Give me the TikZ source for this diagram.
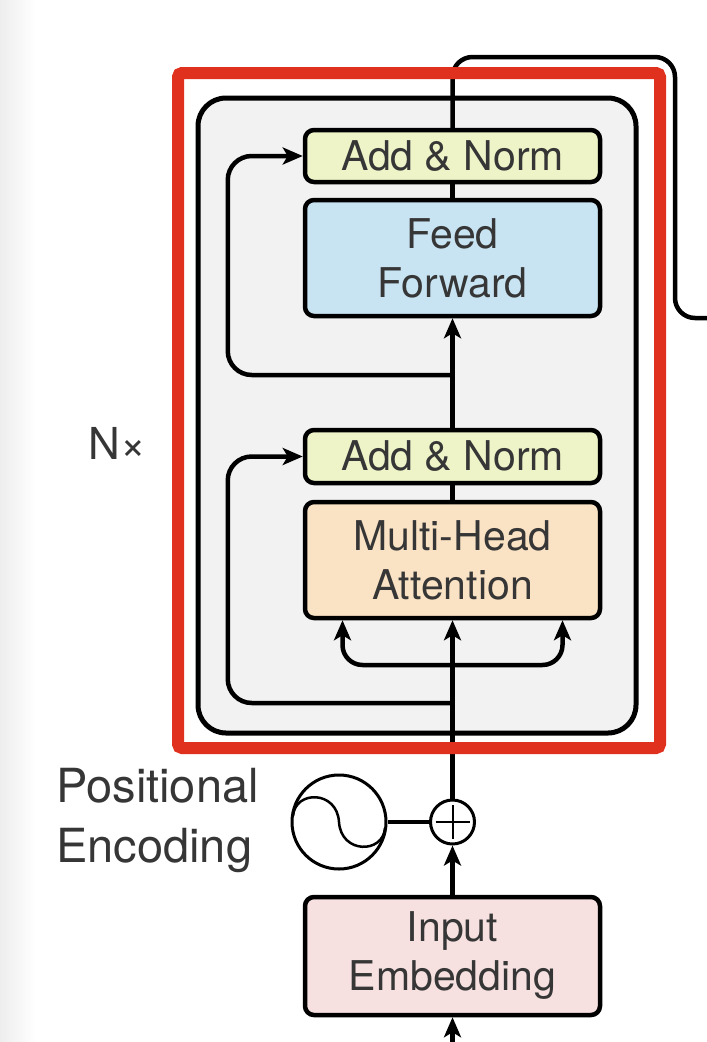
\documentclass[tikz,border=0pt]{standalone}
\usepackage{fontspec}
\setmainfont{TeX Gyre Heros}
\usetikzlibrary{arrows.meta,calc}
\definecolor{txt}{HTML}{363636}
\definecolor{annfill}{HTML}{EEF3C8}
\definecolor{fffill}{HTML}{C8E3F2}
\definecolor{mhafill}{HTML}{FAE2C4}
\definecolor{embfill}{HTML}{F6E0E0}
\definecolor{layerfill}{HTML}{F2F2F3}
\definecolor{hlred}{HTML}{E0301E}
\begin{document}
\begin{tikzpicture}[x=1pt,y=-1pt,
  blk/.style={draw=black, line width=4.5pt, rounded corners=9pt, minimum width=295pt,
    align=center, inner sep=0pt, text=txt, font=\fontsize{41}{49}\selectfont},
  wire/.style={line width=4.5pt},
  arr/.style={wire, -{Stealth[length=20pt,width=17pt,inset=5pt]}},
  lbl/.style={text=txt, inner sep=0pt},
]
\useasboundingbox (0,0) rectangle (707,1042);
\fill[white] (0,0) rectangle (707,1042);
\fill[left color=black!7, right color=white] (0,0) rectangle (35,1042);

% layer container
\node[draw=black, line width=5pt, fill=layerfill, rounded corners=28pt,
  minimum width=438pt, minimum height=635pt, inner sep=0pt] (layer) at (417,415.5) {};

% blocks
\node[blk, fill=annfill, minimum height=52pt] (an1) at (452.5,156) {Add \& Norm};
\node[blk, fill=fffill, minimum height=116pt] (ff) at (452.5,258) {Feed\\Forward};
\node[blk, fill=annfill, minimum height=53pt] (an2) at (452.5,456.5) {Add \& Norm};
\node[blk, fill=mhafill, minimum height=116pt] (mha) at (452.5,560) {Multi-Head\\Attention};
\node[blk, fill=embfill, minimum height=118pt] (emb) at (452.5,956) {Input\\Embedding};

% positional encoding
\node[circle, draw=black, line width=3pt, minimum size=94pt, inner sep=0pt] (pe) at (339,822) {};
\node[circle, draw=black, line width=3pt, minimum size=44pt, inner sep=0pt] (add) at (452.5,822) {};
\draw[line width=2pt] ($(add.center)+(-17,0)$) -- ($(add.center)+(17,0)$);
\draw[line width=2pt] ($(add.center)+(0,-17)$) -- ($(add.center)+(0,17)$);
\draw[line width=2.5pt] ($(pe.center)+(-46,-6)$) .. controls ($(pe.center)+(-44,-32)$) and ($(pe.center)+(-2,-32)$) .. (pe.center)
  .. controls ($(pe.center)+(2,32)$) and ($(pe.center)+(44,32)$) .. ($(pe.center)+(46,6)$);
\draw[wire] (pe.east) -- (add.west);

% coordinates for branch points
\coordinate (bin) at (452.5,1060);
\coordinate (br) at (452.5,665);
\coordinate (r1) at (452.5,703);
\coordinate (r2) at (452.5,375);
\coordinate (out) at (720,318);

% connectors
\draw[arr] (bin) -- (emb.south);
\draw[arr] (emb.north) -- (add.south);
\draw[arr] (add.north) -- (mha.south);
\draw[arr, rounded corners=20pt] (br) -| ($(mha.south)+(-110,0)$);
\draw[arr, rounded corners=20pt] (br) -| ($(mha.south)+(110,0)$);
\draw[arr, rounded corners=24pt] (r1) -| ($(an2.west)+(-75,0)$) -- (an2.west);
\draw[wire] (mha.north) -- (an2.south);
\draw[arr] (an2.north) -- (ff.south);
\draw[arr, rounded corners=24pt] (r2) -| ($(an1.west)+(-75,0)$) -- (an1.west);
\draw[wire] (ff.north) -- (an1.south);
\draw[wire, rounded corners=20pt] (an1.north) |- (675,57) |- (out);

% red highlight
\node[draw=hlred, line width=12pt, rounded corners=4pt, minimum width=482pt,
  minimum height=675pt, inner sep=0pt] (hl) at (419,410.5) {};

% labels
\node[lbl, font=\fontsize{44}{50}\selectfont] (nx) at (117,443) {N×};
\node[lbl, anchor=west, align=left, font=\fontsize{47}{60}\selectfont] (pel) at (56,820) {Positional\\Encoding};
\end{tikzpicture}
\end{document}
